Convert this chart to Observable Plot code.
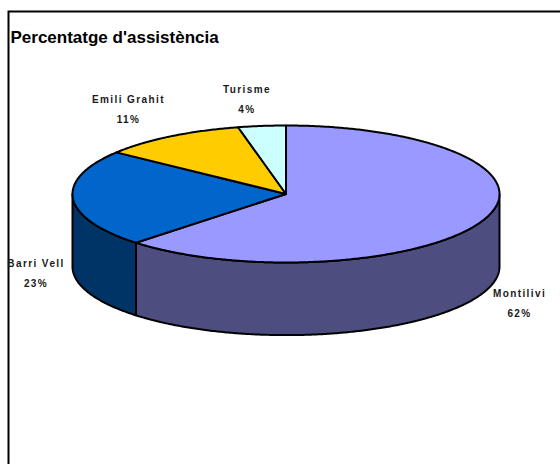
<!DOCTYPE html>
<html>
<head>
<meta charset="utf-8">
<script src="https://cdn.jsdelivr.net/npm/d3@7"></script>
<script src="https://cdn.jsdelivr.net/npm/@observablehq/plot@0.6"></script>
<style>
html,body{margin:0;padding:0;background:#fff;overflow:hidden}
svg{display:block;overflow:hidden}
.pie-label text{letter-spacing:1.4px}
</style>
</head>
<body>
<div id="chart"></div>
<script>
const chartTitle = "Percentatge d'assistència";
const categories = ["Montilivi", "Barri Vell", "Emili Grahit", "Turisme"];
const shares = [62.4, 23, 11, 3.6];
const topColors = ["#9999FF", "#0066CC", "#FFCC00", "#CCFFFF"];
const sideColors = ["#4D4D80", "#003366", "#806600", "#668080"];

const depth = 1.06; // wall height, in units of the ellipse's vertical radius

const TAU = Math.PI * 2;
let acc = 0;
const slices = categories.map((name, i) => {
  const start = acc / 100 * TAU;
  acc += shares[i];
  const end = acc / 100 * TAU;
  return {name, share: shares[i], start, end, mid: (start + end) / 2, top: topColors[i], side: sideColors[i]};
});

const rim = (a, drop = 0) => ({x: Math.sin(a), y: Math.cos(a) - drop});
function arc(a0, a1, drop = 0) {
  const n = Math.max(2, Math.ceil(Math.abs(a1 - a0) / (TAU / 720)));
  return d3.range(n + 1).map(k => rim(a0 + (a1 - a0) * k / n, drop));
}
function wedge(s) {
  const pts = [{x: 0, y: 0}, ...arc(s.start, s.end), {x: 0, y: 0}];
  return Plot.line(pts, {x: "x", y: "y", fill: s.top, stroke: "#000", strokeWidth: 2, strokeLinejoin: "round", strokeLinecap: "round"});
}
function wall(s) {
  const a0 = Math.max(s.start, Math.PI / 2), a1 = Math.min(s.end, Math.PI * 1.5);
  if (a1 <= a0) return null;
  const pts = [...arc(a0, a1), ...arc(a1, a0, depth)];
  pts.push(pts[0]);
  return Plot.line(pts, {x: "x", y: "y", fill: s.side, stroke: "#000", strokeWidth: 2, strokeLinejoin: "round", strokeLinecap: "round"});
}
function label(s, dx, dy) {
  return Plot.text([s], {
    x: d => rim(d.mid).x,
    y: d => rim(d.mid).y,
    text: d => `${d.name}\n${Math.round(d.share)}%`,
    dx, dy,
    lineHeight: 2,
    fontSize: 10,
    fontWeight: "bold",
    fontFamily: "Liberation Sans, Arial, sans-serif",
    fill: "#1a1a1a",
    className: "pie-label"
  });
}

const plot = Plot.plot({
  width: 560,
  height: 464,
  margin: 0,
  x: {axis: null, domain: [-1, 1], range: [72, 499]},
  y: {axis: null, domain: [1, -1], range: [125, 262]},
  style: {background: "#fff"},
  marks: [
    Plot.frame({stroke: "#000", strokeWidth: 2, insetLeft: 8, insetTop: 11, insetRight: -10, insetBottom: -10}),
    ...slices.map(wall).filter(Boolean),
    ...slices.map(wedge),
    label(slices[0], 36, 81),
    label(slices[1], -37, 72),
    label(slices[2], -42, -30),
    label(slices[3], -15, -29),
    Plot.text([chartTitle], {
      frameAnchor: "top-left",
      dx: 10, dy: 30,
      fontSize: 17,
      fontWeight: "bold",
      fontFamily: "Liberation Sans, Arial, sans-serif",
      fill: "#000"
    })
  ]
});
document.getElementById("chart").append(plot);
</script>
</body>
</html>
